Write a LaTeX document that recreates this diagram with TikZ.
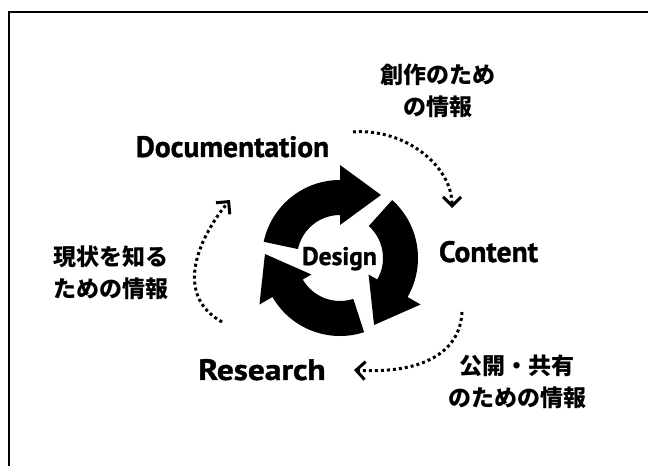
\documentclass[tikz,border=0pt]{standalone}
\usepackage{fontspec}
\newfontfamily\latfont{PT Sans}[BoldFeatures={FakeBold=1.2}]
\newfontfamily\jpfont{Noto Sans CJK JP}
\usetikzlibrary{arrows.meta}
\begin{document}
\begin{tikzpicture}[x=1pt,y=1pt,
  term/.style={font=\latfont\bfseries\fontsize{29.5}{29.5}\selectfont, inner sep=0pt, anchor=base},
  hub/.style={font=\latfont\bfseries\fontsize{25.5}{25.5}\selectfont, inner sep=0pt, anchor=base},
  note/.style={font=\jpfont\bfseries\fontsize{23}{32}\selectfont, inner sep=0pt},
  flow/.style={line width=3pt, dash pattern=on 3pt off 3pt,
    -{Straight Barb[length=9pt,width=18pt,line width=3pt]}},
  frame/.style={line width=2pt}]
\useasboundingbox (0,0) rectangle (648,466);

% open frame: left and top rules
\draw[frame] (9,0) -- (9,454) -- (648,454);

% cycle of three arrows around the centre
\foreach \k in {0,1,2}{
  \fill[shift={(340,208)}, rotate=-120*\k]
    (168:78pt) arc[start angle=168, end angle=90, radius=78pt]
    -- (90:93pt) -- (41pt,63pt) -- (90:33pt) -- (90:43pt)
    arc[start angle=90, end angle=168, radius=43pt] -- cycle;
}

% labels
\node[hub]  (design)  at (339.5,201) {Design};
\node[term] (doc)     at (232.5,309) {Documentation};
\node[term] (content) at (488.5,204) {Content};
\node[term, xscale=1.13] (research) at (262,86) {Research};

\node[note, align=center] (create) at (438,375) {創作のため\\の情報};
\node[note, align=left, anchor=west] (know) at (53,193) {現状を知る\\ための情報};
\node[note, align=center] (share) at (517,84) {公開・共有\\のための情報};

% dotted information flows
\coordinate (f1s) at (353,334);
\coordinate (f1e) at (452,258);
\coordinate (f2s) at (222,144);
\coordinate (f2e) at (230,266);
\coordinate (f3s) at (462,154);
\coordinate (f3e) at (354,96);
\draw[flow] (f1s) .. controls (405,338) and (452,300) .. (f1e);
\draw[flow] (f2s) .. controls (172,172) and (200,230) .. (f2e);
\draw[flow] (f3s) .. controls (460,112) and (420,92) .. (f3e);
\end{tikzpicture}
\end{document}
